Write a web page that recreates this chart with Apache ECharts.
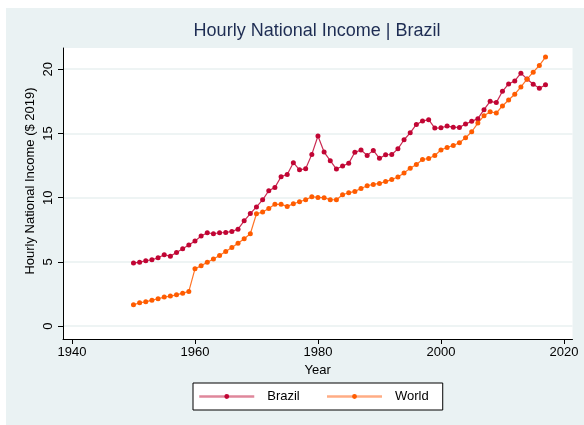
<!DOCTYPE html>
<html>
<head>
<meta charset="utf-8">
<script src="https://cdn.jsdelivr.net/npm/echarts@6/dist/echarts.min.js"></script>
<style>
html,body{margin:0;padding:0;background:#fff;}
#chart{width:584px;height:425px;}
</style>
</head>
<body>
<div id="chart"></div>
<script>
var years = [];
for (var y = 1950; y <= 2017; y++) years.push(y);

var brazil = [4.91,4.98,5.09,5.17,5.32,5.56,5.45,5.74,6.02,6.31,
  6.62,7.01,7.27,7.19,7.27,7.29,7.37,7.55,8.20,8.76,
  9.28,9.83,10.54,10.80,11.63,11.81,12.72,12.17,12.25,13.37,
  14.80,13.55,12.88,12.23,12.46,12.67,13.53,13.71,13.29,13.68,
  13.06,13.34,13.36,13.80,14.51,15.05,15.70,15.96,16.07,15.42,
  15.44,15.57,15.49,15.47,15.73,15.94,16.15,16.85,17.50,17.40,
  18.28,18.85,19.09,19.69,19.24,18.83,18.52,18.78];

var world = [1.66,1.82,1.89,2.02,2.13,2.26,2.34,2.44,2.57,2.70,
  4.46,4.70,4.98,5.22,5.50,5.81,6.13,6.46,6.80,7.19,
  8.75,8.88,9.16,9.48,9.48,9.32,9.53,9.68,9.84,10.07,
  10.02,10.00,9.84,9.84,10.23,10.38,10.49,10.72,10.93,11.03,
  11.11,11.25,11.41,11.61,11.93,12.29,12.58,12.97,13.05,13.28,
  13.72,13.91,14.06,14.27,14.66,15.13,15.81,16.38,16.69,16.59,
  17.14,17.60,18.05,18.62,19.22,19.77,20.29,20.94];

var xTicks = [1940, 1960, 1980, 2000, 2020];
var yTicks = [0, 5, 10, 15, 20];

function pairs(vals) { return years.map(function (yr, i) { return [yr, vals[i]]; }); }

var chart = echarts.init(document.getElementById('chart'), null, {renderer: 'canvas'});
var FONT = 'Liberation Sans, Arial, sans-serif';
chart.setOption({
  backgroundColor: '#ffffff',
  animation: false,
  graphic: {
    elements: [
      {type: 'rect', z: -100, shape: {x: 6, y: 8, width: 578, height: 417}, style: {fill: '#EAF2F3'}},
      {type: 'text', x: 30, y: 181, rotation: Math.PI / 2,
       style: {text: 'Hourly National Income ($ 2019)', fill: '#000', font: '13px ' + FONT, align: 'center', verticalAlign: 'middle'}}
    ]
  },
  title: {
    text: 'Hourly National Income | Brazil',
    left: 317, top: 22, textAlign: 'center', padding: 0,
    textStyle: {fontFamily: FONT, fontSize: 18, fontWeight: 'normal', color: '#1E2D53'}
  },
  grid: {
    left: 63, right: 11.5, top: 48, bottom: 86,
    show: true, backgroundColor: '#ffffff', borderWidth: 0,
    outerBoundsMode: 'none'
  },
  xAxis: {
    type: 'value', min: 1938.54, max: 2021.39,
    name: 'Year', nameLocation: 'middle', nameGap: 21,
    nameTextStyle: {fontFamily: FONT, fontSize: 13, color: '#000', verticalAlign: 'top'},
    axisLine: {show: true, onZero: false, lineStyle: {color: '#000', width: 1}},
    axisTick: {show: true, length: 5, customValues: xTicks, lineStyle: {color: '#000'}},
    axisLabel: {customValues: xTicks, margin: 7, fontFamily: FONT, fontSize: 13, color: '#000',
                formatter: function (v) { return String(v); }},
    splitLine: {show: false}
  },
  yAxis: {
    type: 'value', min: -1.0, max: 21.65,
    axisLine: {show: true, onZero: false, lineStyle: {color: '#000', width: 1}},
    axisTick: {show: true, length: 5, customValues: yTicks, lineStyle: {color: '#000'}},
    axisLabel: {customValues: yTicks, rotate: 90, margin: 8, fontFamily: FONT, fontSize: 13, color: '#000',
                formatter: function (v) { return String(v); }},
    splitLine: {show: true, lineStyle: {color: '#E9F0F1', width: 1.5}}
  },
  legend: {
    left: 193, top: 383,
    orient: 'horizontal',
    backgroundColor: '#ffffff', borderColor: '#000', borderWidth: 1, borderRadius: 0,
    padding: [7, 14, 7, 5], itemGap: 26, itemWidth: 55, itemHeight: 6,
    textStyle: {fontFamily: FONT, fontSize: 13, color: '#000', padding: [0, 0, 0, 8]},
    data: [
      {name: 'Brazil', itemStyle: {color: '#C10534'}, lineStyle: {color: '#D9728A', width: 2.5}},
      {name: 'World', itemStyle: {color: '#FF5C00'}, lineStyle: {color: '#FF9E6E', width: 2.5}}
    ]
  },
  series: [
    {
      name: 'Brazil', type: 'line', data: pairs(brazil),
      symbol: 'circle', symbolSize: 5, clip: false,
      itemStyle: {color: '#C10534'},
      lineStyle: {color: '#C10534', width: 1.2, opacity: 0.85}
    },
    {
      name: 'World', type: 'line', data: pairs(world),
      symbol: 'circle', symbolSize: 5, clip: false,
      itemStyle: {color: '#FF5C00'},
      lineStyle: {color: '#FF5C00', width: 1.2, opacity: 0.85}
    }
  ]
});
</script>
</body>
</html>
